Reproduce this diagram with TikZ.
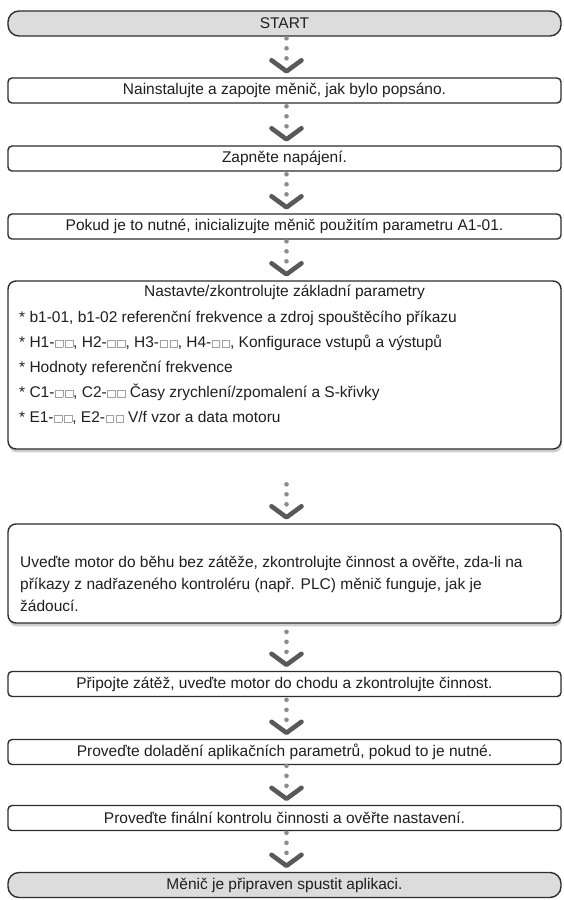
\documentclass[tikz,border=0pt]{standalone}
\usepackage{fontspec}
\setmainfont{Liberation Sans}
\usetikzlibrary{positioning,calc,shadows}

\definecolor{edgegray}{HTML}{2E2E2E}
\definecolor{endfill}{HTML}{DCDCDC}
\definecolor{chevgray}{HTML}{595959}
\definecolor{dotgray}{HTML}{8C8C8C}
\definecolor{sqgray}{HTML}{A0A0A0}

% prázdná pole parametru
\newcommand{\sqbox}{{\color{sqgray}\setlength{\fboxsep}{0pt}\setlength{\fboxrule}{0.6pt}%
  \fbox{\rule{0pt}{7pt}\hspace{7pt}}}}
\newcommand{\sqq}{\hspace{0.5pt}\sqbox\hspace{1.8pt}\sqbox}

% tečky a šipka nad dalším krokem
\newcommand{\flowinto}[1]{%
  \foreach \d in {19,29,39}
    \fill[dotgray] ($(#1.north)+(2,-\d)$) circle (2.3);
  \draw[chevgray, line width=4.6pt, line cap=round, line join=round]
    ($(#1.north)+(-13,-17)$) -- ($(#1.north)+(2,-6)$) -- ($(#1.north)+(17,-17)$);
}

\tikzset{
  stepbox/.style={draw=edgegray, line width=1.4pt, rounded corners=4pt,
    minimum width=553pt, minimum height=25pt, inner sep=0pt,
    font=\fontsize{15.5}{18}\selectfont, text=black!88},
  endbox/.style={stepbox, fill=endfill, rounded corners=11pt},
  bigbox/.style={stepbox, fill=white, rounded corners=8pt,
    drop shadow={shadow xshift=0.8pt, shadow yshift=-3.4pt, fill=gray!75}},
  listtext/.style={anchor=north west, inner sep=0pt, align=left, text=black!88},
}

\begin{document}
\begin{tikzpicture}[x=1pt, y=-1pt]
    \useasboundingbox[fill=white] (0,0) rectangle (563,900);

    % kroky
    \node[endbox] (start) at (284.5,23.5) {START};
    \node[stepbox] (install) at (284.5,90.5) {Nainstalujte a zapojte měnič, jak bylo popsáno.};
    \node[stepbox] (power) at (284.5,158.5) {Zapněte napájení.};
    \node[stepbox] (init) at (284.5,226.5) {Pokud je to nutné, inicializujte měnič použitím parametru A1-01.};

    % základní parametry
    \node[bigbox, minimum height=168pt] (params) at (284.5,365) {};
    \node[inner sep=0pt, font=\fontsize{15.5}{18}\selectfont, text=black!88] (paramtitle)
      at (284.5,292) {Nastavte/zkontrolujte základní parametry};
    \node[listtext, font=\fontsize{15.5}{25}\selectfont] (paramlist) at (19,310.5) {%
      * b1-01, b1-02 referenční frekvence a zdroj spouštěcího příkazu\\
      * H1-\sqq, H2-\sqq, H3-\sqq, H4-\sqq, Konfigurace vstupů a výstupů\\
      * Hodnoty referenční frekvence\\
      * C1-\sqq, C2-\sqq{} Časy zrychlení/zpomalení a S-křivky\\
      * E1-\sqq, E2-\sqq{} V/f vzor a data motoru};

    % zkušební chod
    \node[bigbox, minimum height=99pt] (trial) at (284.5,573.5) {};
    \node[listtext, font=\fontsize{15.5}{22}\selectfont] (trialtext) at (20,555.5) {%
      Uveďte motor do běhu bez zátěže, zkontrolujte činnost a ověřte, zda-li na\\
      příkazy z nadřazeného kontroléru (např. PLC) měnič funguje, jak je\\
      žádoucí.};

    \node[stepbox] (load) at (284.5,684) {Připojte zátěž, uveďte motor do chodu a zkontrolujte činnost.};
    \node[stepbox] (tune) at (284.5,752) {Proveďte doladění aplikačních parametrů, pokud to je nutné.};
    \node[stepbox] (check) at (284.5,818) {Proveďte finální kontrolu činnosti a ověřte nastavení.};
    \node[endbox] (ready) at (284.5,885) {Měnič je připraven spustit aplikaci.};

    % šipky
    \foreach \n in {install,power,init,params,trial,load,tune,check,ready}
      {\flowinto{\n}}
  \end{tikzpicture}
\end{document}
